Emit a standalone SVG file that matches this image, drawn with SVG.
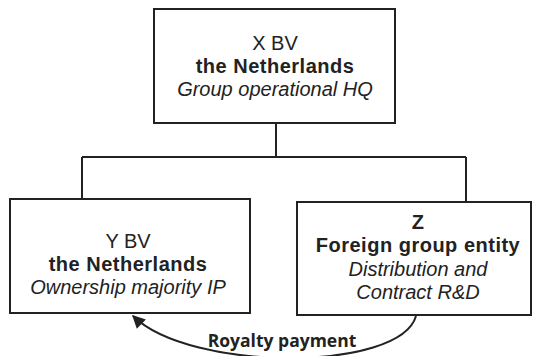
<svg xmlns="http://www.w3.org/2000/svg" width="533" height="356" viewBox="0 0 533 356">
<defs>
<style>
.box{fill:#fff;stroke:#222;stroke-width:2}
.t{font-family:"Liberation Sans",Arial,sans-serif;font-size:20px;fill:#222;text-anchor:middle}
.b{font-weight:bold;letter-spacing:0.5px}
.i{font-style:italic}
.ln{fill:none;stroke:#222;stroke-width:2}
.lbl{font-family:"Open Sans","Liberation Sans",sans-serif;font-size:17.5px;font-weight:bold;fill:#222;text-anchor:middle}
</style>
<marker id="arr" viewBox="0 0 10 10" refX="9" refY="5" markerWidth="15" markerHeight="13" orient="auto" markerUnits="userSpaceOnUse">
<path d="M0,0 L10,5 L0,10 z" fill="#222"/>
</marker>
</defs>
<rect width="533" height="356" fill="#fff"/>
<g id="connectors">
<path class="ln" d="M276,123 V157 M82,157 H466 M82,157 V199 M466,157 V202"/>
<path class="ln" d="M416,316 C400,372 190,372 133,316" marker-end="url(#arr)"/>
<text class="lbl" x="282" y="347">Royalty payment</text>
</g>
<g id="x-bv">
<rect class="box" x="154" y="9" width="241" height="114"/>
<text class="t" x="275" y="50">X BV</text>
<text class="t b" x="275" y="73">the Netherlands</text>
<text class="t i" x="275" y="96">Group operational HQ</text>
</g>
<g id="y-bv">
<rect class="box" x="10" y="199" width="240" height="114"/>
<text class="t" x="128" y="248">Y BV</text>
<text class="t b" x="128" y="271">the Netherlands</text>
<text class="t i" x="128" y="294">Ownership majority IP</text>
</g>
<g id="z">
<rect class="box" x="297" y="202" width="234" height="113"/>
<text class="t b" x="418" y="229">Z</text>
<text class="t b" x="418" y="252">Foreign group entity</text>
<text class="t i" x="418" y="276">Distribution and</text>
<text class="t i" x="418" y="299">Contract R&amp;D</text>
</g>
</svg>
